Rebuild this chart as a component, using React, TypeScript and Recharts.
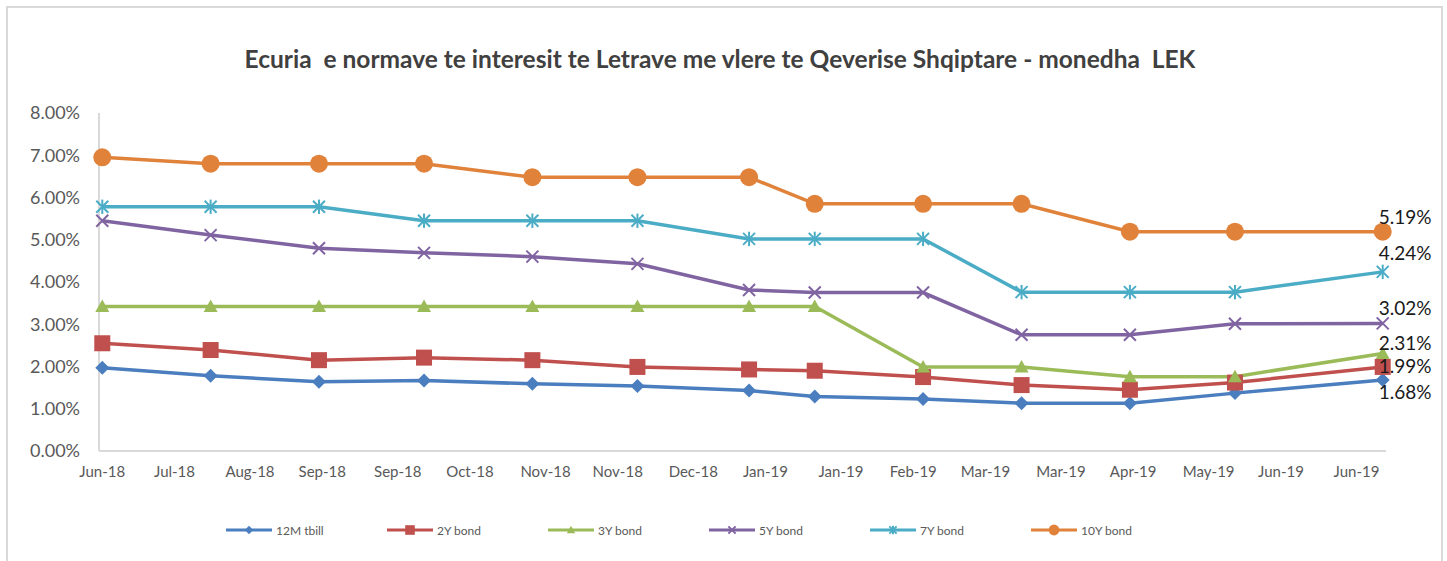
import React from "react";
import { LineChart, Line, XAxis, YAxis, LabelList } from "recharts";

// days since the first auction (Jun-18)
const auctionDays = [0, 33, 66, 98, 131, 163, 197, 217, 250, 280, 313, 345, 390];

const tbill12m = [1.97, 1.78, 1.64, 1.67, 1.59, 1.54, 1.43, 1.29, 1.23, 1.13, 1.13, 1.37, 1.68];
const bond2y = [2.55, 2.39, 2.15, 2.21, 2.15, 1.99, 1.93, 1.9, 1.75, 1.56, 1.45, 1.62, 1.99];
const bond3y = [3.42, 3.42, 3.42, 3.42, 3.42, 3.42, 3.42, 3.42, 1.99, 1.99, 1.76, 1.76, 2.31];
const bond5y = [5.45, 5.11, 4.8, 4.69, 4.6, 4.43, 3.81, 3.75, 3.75, 2.75, 2.75, 3.01, 3.02];
const bond7y = [5.78, 5.78, 5.78, 5.45, 5.45, 5.45, 5.02, 5.02, 5.02, 3.76, 3.76, 3.76, 4.24];
const bond10y = [6.95, 6.8, 6.8, 6.8, 6.48, 6.48, 6.48, 5.85, 5.85, 5.85, 5.19, 5.19, 5.19];

const tickDays = [0, 22, 45, 67, 90, 112, 135, 157, 180, 202, 225, 247, 269, 292, 314, 337, 359, 382];
const tickLabels = [
  "Jun-18", "Jul-18", "Aug-18", "Sep-18", "Sep-18", "Oct-18", "Nov-18", "Nov-18", "Dec-18",
  "Jan-19", "Jan-19", "Feb-19", "Mar-19", "Mar-19", "Apr-19", "May-19", "Jun-19", "Jun-19",
];
const yTicks = [0, 1, 2, 3, 4, 5, 6, 7, 8];

const TITLE = "Ecuria  e normave te interesit te Letrave me vlere te Qeverise Shqiptare - monedha  LEK";
const FONT = "Lato, 'Open Sans', sans-serif";

const data = auctionDays.map((day, i) => ({
  day,
  tbill12m: tbill12m[i],
  bond2y: bond2y[i],
  bond3y: bond3y[i],
  bond5y: bond5y[i],
  bond7y: bond7y[i],
  bond10y: bond10y[i],
}));

type Shape = "diamond" | "square" | "triangle" | "x" | "star" | "circle";

const series: { key: string; name: string; color: string; shape: Shape; labelDy: number }[] = [
  { key: "tbill12m", name: "12M tbill", color: "#4a7ebf", shape: "diamond", labelDy: 11 },
  { key: "bond2y", name: "2Y bond", color: "#c0504d", shape: "square", labelDy: -1 },
  { key: "bond3y", name: "3Y bond", color: "#9bbb59", shape: "triangle", labelDy: -11 },
  { key: "bond5y", name: "5Y bond", color: "#8064a2", shape: "x", labelDy: -16 },
  { key: "bond7y", name: "7Y bond", color: "#4bacc6", shape: "star", labelDy: -19 },
  { key: "bond10y", name: "10Y bond", color: "#e0823a", shape: "circle", labelDy: -15 },
];

const Marker = ({ shape, cx, cy, color, k = 1 }: { shape: Shape; cx: number; cy: number; color: string; k?: number }) => {
  if (cx == null || cy == null) return null;
  switch (shape) {
    case "diamond": {
      const r = 7 * k;
      return <polygon points={`${cx},${cy - r} ${cx + r},${cy} ${cx},${cy + r} ${cx - r},${cy}`} fill={color} />;
    }
    case "square": {
      const r = 8 * k;
      return <rect x={cx - r} y={cy - r} width={2 * r} height={2 * r} fill={color} />;
    }
    case "triangle": {
      const r = 7 * k;
      return <polygon points={`${cx},${cy - r} ${cx + r},${cy + r * 0.8} ${cx - r},${cy + r * 0.8}`} fill={color} />;
    }
    case "x": {
      const r = 6 * k;
      return (
        <g stroke={color} strokeWidth={2}>
          <line x1={cx - r} y1={cy - r} x2={cx + r} y2={cy + r} />
          <line x1={cx - r} y1={cy + r} x2={cx + r} y2={cy - r} />
        </g>
      );
    }
    case "star": {
      const r = 6 * k;
      return (
        <g stroke={color} strokeWidth={2}>
          <line x1={cx - r} y1={cy - r} x2={cx + r} y2={cy + r} />
          <line x1={cx - r} y1={cy + r} x2={cx + r} y2={cy - r} />
          <line x1={cx} y1={cy - r * 1.2} x2={cx} y2={cy + r * 1.2} />
        </g>
      );
    }
    default:
      return <circle cx={cx} cy={cy} r={9 * k} fill={color} />;
  }
};

const endLabel = (dy: number) => (props: any) => {
  const { x, y, value, index } = props;
  if (index !== data.length - 1) return null;
  return (
    <text x={x - 4} y={y + dy} dominantBaseline="central" fontSize={19} fill="#1a1a1a" fontFamily={FONT}>
      {Number(value).toFixed(2)}%
    </text>
  );
};

const LegendRow = () => (
  <div style={{ position: "absolute", left: 226, top: 521, display: "flex", fontFamily: FONT, fontSize: 12, color: "#595959" }}>
    {series.map((s) => (
      <div key={s.key} style={{ width: 161, display: "flex", alignItems: "center" }}>
        <svg width={46} height={18}>
          <line x1={0} y1={9} x2={46} y2={9} stroke={s.color} strokeWidth={3} />
          <Marker shape={s.shape} cx={23} cy={9} color={s.color} k={0.6} />
        </svg>
        <span style={{ marginLeft: 4 }}>{s.name}</span>
      </div>
    ))}
  </div>
);

export default function App() {
  return (
    <div style={{ position: "absolute", left: 0, top: 0, width: 1447, height: 561, overflow: "hidden", background: "#fff" }}>
      <div style={{ position: "absolute", left: 6, top: 6, width: 1433, height: 600, border: "2px solid #d9d9d9" }} />
      <div
        style={{
          position: "absolute",
          left: 0,
          width: 1440,
          top: 44,
          textAlign: "center",
          fontFamily: FONT,
          fontWeight: 700,
          fontSize: 24.5,
          color: "#404040",
          whiteSpace: "pre",
        }}
      >
        {TITLE}
      </div>
      <div style={{ position: "absolute", left: 0, top: 0 }}>
        <LineChart width={1447} height={561} data={data} margin={{ top: 113, right: 61, left: 8, bottom: 80 }}>
          <XAxis
            dataKey="day"
            type="number"
            domain={[-1, 391]}
            ticks={tickDays}
            interval={0}
            tickFormatter={(_v: number, i: number) => tickLabels[i]}
            axisLine={{ stroke: "#d9d9d9", strokeWidth: 2 }}
            tickLine={false}
            tickSize={0}
            tickMargin={15}
            height={30}
            tick={{ fill: "#595959", fontSize: 15, fontFamily: FONT }}
          />
          <YAxis
            type="number"
            domain={[0, 8]}
            ticks={yTicks}
            interval={0}
            tickFormatter={(v: number) => `${v.toFixed(2)}%`}
            axisLine={{ stroke: "#d9d9d9", strokeWidth: 2 }}
            tickLine={false}
            tickSize={0}
            tickMargin={19}
            width={91}
            tick={{ fill: "#595959", fontSize: 18, fontFamily: FONT }}
          />
          {series.map((s) => (
            <Line
              key={s.key}
              dataKey={s.key}
              name={s.name}
              stroke={s.color}
              strokeWidth={3.5}
              isAnimationActive={false}
              dot={(p: any) => <Marker key={`${s.key}-${p.index}`} shape={s.shape} cx={p.cx} cy={p.cy} color={s.color} />}
              activeDot={false}
            >
              <LabelList dataKey={s.key} content={endLabel(s.labelDy)} />
            </Line>
          ))}
        </LineChart>
      </div>
      <LegendRow />
    </div>
  );
}
